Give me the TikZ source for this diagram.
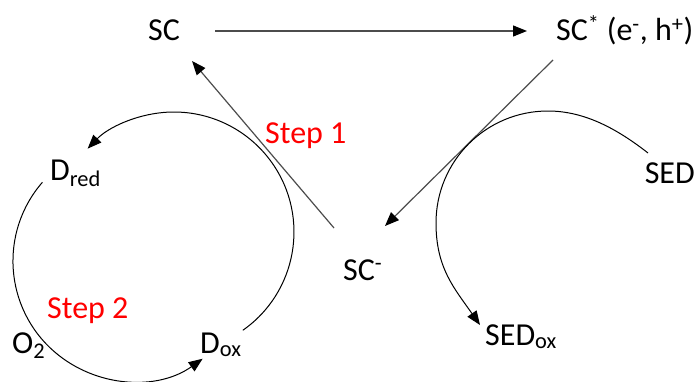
\documentclass[tikz,border=0pt]{standalone}
\usepackage{fontspec}
\setmainfont{Carlito}
\usetikzlibrary{arrows.meta}
\begin{document}
\begin{tikzpicture}[x=1pt,y=1pt,
  lbl/.style={inner sep=0pt, font=\fontsize{32}{38}\selectfont},
  steplbl/.style={lbl, text=red},
  tip/.style={-{Triangle[length=14pt,width=11pt,color=black]}},
  straight/.style={line width=1.2pt, black!70},
  curve/.style={line width=1pt, black}]
\useasboundingbox (0,0) rectangle (698,381);
\node[lbl, anchor=base] (SC) at (164,340) {SC};
\node[lbl, anchor=base west] (SCs) at (556,340) {SC\textsuperscript{*} (e\textsuperscript{-}, h\textsuperscript{+})};
\node[lbl, anchor=base west] (SCm) at (343,101) {SC\textsuperscript{-}};
\node[lbl, anchor=base east] (SED) at (695,198) {SED};
\node[lbl, anchor=base west] (SEDox) at (485,36) {SED\textsubscript{ox}};
\node[lbl, anchor=base west] (Dred) at (50,201) {D\textsubscript{red}};
\node[lbl, anchor=base west] (Dox) at (200,28) {D\textsubscript{ox}};
\node[lbl, anchor=base west] (O2) at (12,28) {O\textsubscript{2}};
\node[steplbl, anchor=base west] (s1) at (265,238) {Step 1};
\node[steplbl, anchor=base west] (s2) at (47,63) {Step 2};
\coordinate (h1) at (215,350); \coordinate (h2) at (527,350);
\coordinate (u1) at (334,153); \coordinate (u2) at (192,320);
\coordinate (d1) at (553,321); \coordinate (d2) at (385,155);
\coordinate (a1) at (242.8,50.7);
\coordinate (b1) at (42.4,198.7);
\coordinate (c1) at (648,228); \coordinate (c2) at (548,270);
\coordinate (c3) at (436,158); \coordinate (c4) at (480,56);
\draw[straight,tip] (h1) -- (h2);
\draw[straight,tip] (u1) -- (u2);
\draw[straight,tip] (d1) -- (d2);
\draw[curve,tip] (a1) arc[start angle=-55,end angle=136,radius=120];
\draw[curve,tip] (b1) arc[start angle=139,end angle=305.5,radius=120];
\draw[curve,tip] (c1) .. controls (618.4,251.1) and (585.5,270) .. (c2)
  .. controls (486,270) and (436,220) .. (c3)
  .. controls (436,113) and (454.2,92.9) .. (c4);
\end{tikzpicture}
\end{document}
